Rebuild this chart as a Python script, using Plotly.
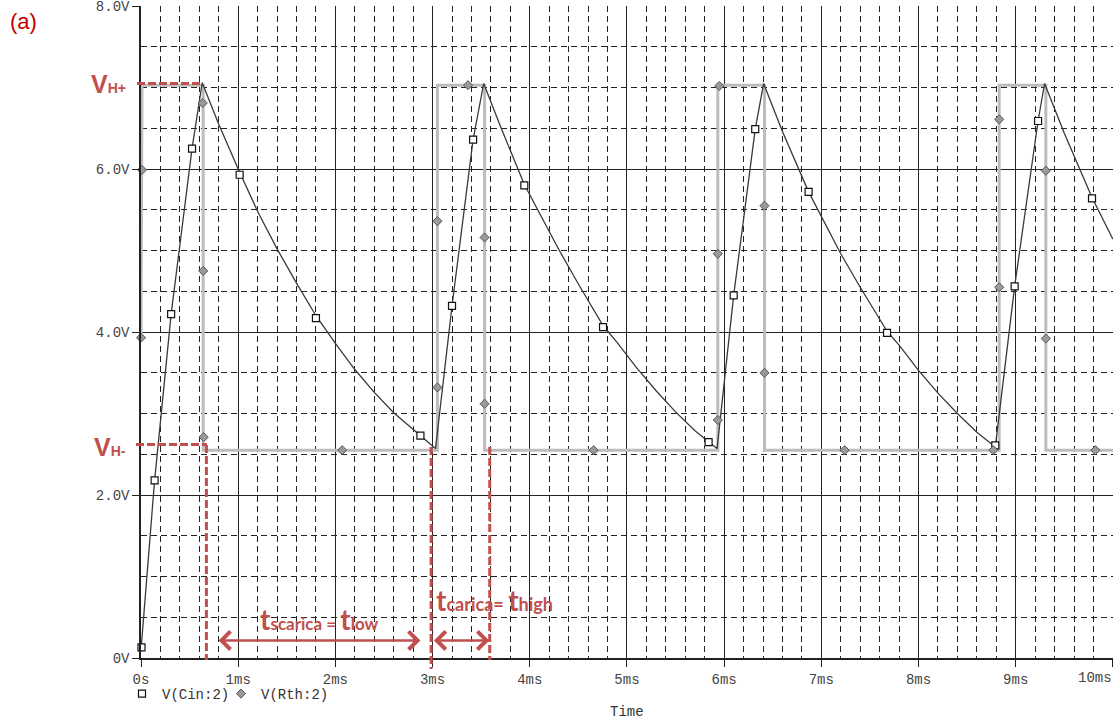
import plotly.graph_objects as go

# ---------------- data ----------------
# V(Cin:2) capacitor voltage, time in ms, volts
cin_t = [0.00, 0.14, 0.31, 0.525, 0.63,
         0.80, 1.00, 1.20, 1.40, 1.60, 1.80, 2.00, 2.20, 2.40, 2.60, 2.80, 2.875, 3.03,
         3.20, 3.417, 3.526,
         3.70, 3.944, 4.10, 4.30, 4.50, 4.754, 4.90, 5.10, 5.30, 5.50, 5.70, 5.84, 5.927,
         6.098, 6.32, 6.406,
         6.60, 6.869, 7.00, 7.20, 7.40, 7.676, 7.80, 8.00, 8.20, 8.40, 8.60, 8.79,
         8.989, 9.23, 9.297,
         9.50, 9.785, 10.0]
cin_v = [0.10, 2.18, 4.22, 6.25, 7.06,
         6.55, 6.00, 5.48, 5.02, 4.60, 4.20, 3.86, 3.54, 3.26, 3.01, 2.80, 2.73, 2.57,
         4.32, 6.36, 7.05,
         6.52, 5.81, 5.46, 5.01, 4.59, 4.08, 3.87, 3.56, 3.28, 3.02, 2.79, 2.65, 2.57,
         4.45, 6.49, 7.05,
         6.46, 5.72, 5.42, 4.96, 4.55, 4.01, 3.84, 3.53, 3.25, 3.00, 2.77, 2.59,
         4.56, 6.59, 7.05,
         6.44, 5.65, 5.14]

# V(Rth:2) comparator output (square wave)
rth_t = [0.00, 0.01, 0.64, 0.64, 3.05, 3.05, 3.535, 3.535, 5.935, 5.935,
         6.415, 6.415, 8.83, 8.83, 9.31, 9.31, 10.0]
rth_v = [3.93, 7.03, 7.03, 2.55, 2.55, 7.03, 7.03, 2.55, 2.55, 7.03,
         7.03, 2.55, 2.55, 7.03, 7.03, 2.55, 2.55]

# marker positions seen on the traces
cin_mark_t = [0.005, 0.14, 0.31, 0.525, 1.015, 1.80, 2.875, 3.20, 3.417, 3.944, 4.754,
              5.84, 6.098, 6.32, 6.869, 7.676, 8.79, 8.989, 9.23, 9.785]
cin_mark_v = [0.13, 2.18, 4.22, 6.25, 5.93, 4.17, 2.73, 4.32, 6.36, 5.80, 4.06,
              2.65, 4.45, 6.49, 5.72, 3.99, 2.61, 4.56, 6.59, 5.64]
rth_mark_t = [0.0, 0.01, 0.635, 0.64, 0.645, 2.07, 3.05, 3.05, 3.365, 3.535, 3.535,
              4.657, 5.935, 5.935, 5.95, 6.415, 6.415, 7.24, 8.77, 8.83, 8.83,
              9.31, 9.31, 9.82]
rth_mark_v = [3.93, 5.99, 6.81, 4.75, 2.71, 2.55, 3.32, 5.36, 7.03, 5.16, 3.12,
              2.55, 2.92, 4.96, 7.02, 5.55, 3.50, 2.55, 2.55, 4.55, 6.61,
              5.98, 3.92, 2.55]

x_ticks = [0, 1, 2, 3, 4, 5, 6, 7, 8, 9, 10]
x_labels = ['0s', '1ms', '2ms', '3ms', '4ms', '5ms', '6ms', '7ms', '8ms', '9ms', '10ms']
y_ticks = [0, 2, 4, 6, 8]
y_labels = ['0V', '2.0V', '4.0V', '6.0V', '8.0V']

# annotation levels / times
vh_plus = 7.05
vh_minus = 2.62
t_low_start = 0.673
t_low_edge = 2.985
t_high_edge = 3.588
arrow_v = 0.216

# ---------------- layout helpers ----------------
W, H = 1117, 724
ML, MR, MT, MB = 141, 4, 6, 66
PW, PH = W - ML - MR, H - MT - MB


def fx(px):
    return (px - ML) / PW


def fy(py):
    return (H - MB - py) / PH


RED = '#c0504d'
MONO = 'Liberation Mono'
GRID = '#222222'
TICKCOL = '#444444'

fig = go.Figure()
fig.add_trace(go.Scatter(x=rth_t, y=rth_v, mode='lines',
                         line=dict(color='#bcbcbc', width=3),
                         showlegend=False, hoverinfo='skip'))
fig.add_trace(go.Scatter(x=cin_t, y=cin_v, mode='lines',
                         line=dict(color='#3a3a3a', width=1.3),
                         showlegend=False, hoverinfo='skip'))
fig.add_trace(go.Scatter(x=cin_mark_t, y=cin_mark_v, mode='markers', name='V(Cin:2)',
                         cliponaxis=False, legend='legend',
                         marker=dict(symbol='square', size=7, color='white',
                                     line=dict(color='#111111', width=1.2))))
fig.add_trace(go.Scatter(x=rth_mark_t, y=rth_mark_v, mode='markers', name='V(Rth:2)',
                         cliponaxis=False, legend='legend2',
                         marker=dict(symbol='diamond', size=7, color='#9a9a9a',
                                     line=dict(color='#555555', width=1))))

shapes = []
dash_red = dict(color=RED, width=3, dash='8px,3px')
# VH+ and VH- horizontal guides
shapes.append(dict(type='line', xref='paper', yref='y', x0=fx(137), x1=fx(200),
                   y0=vh_plus, y1=vh_plus, line=dash_red, layer='above'))
shapes.append(dict(type='line', xref='paper', yref='y', x0=fx(136), x1=fx(207),
                   y0=vh_minus, y1=vh_minus, line=dash_red, layer='above'))
# vertical guides
shapes.append(dict(type='line', xref='x', yref='paper', x0=t_low_start, x1=t_low_start,
                   y0=fy(445), y1=fy(660), line=dash_red, layer='above'))
shapes.append(dict(type='line', xref='x', yref='paper', x0=t_low_edge, x1=t_low_edge,
                   y0=fy(447), y1=fy(669), line=dash_red, layer='above'))
shapes.append(dict(type='line', xref='x', yref='paper', x0=t_high_edge, x1=t_high_edge,
                   y0=fy(447), y1=fy(660), line=dash_red, layer='above'))

annotations = []
# double arrows
for a, b in [(0.783, 2.875), (2.998, 3.584)]:
    annotations.append(dict(x=b, y=arrow_v, ax=a, ay=arrow_v, xref='x', yref='y',
                            axref='x', ayref='y', text='', showarrow=True,
                            arrowhead=4, startarrowhead=4, arrowside='end+start',
                            arrowsize=1.4, startarrowsize=1.4, arrowwidth=2.5,
                            arrowcolor=RED, standoff=0, startstandoff=0))

annotations.append(dict(xref='paper', yref='paper', x=fx(8), y=fy(22), xanchor='left',
                        yanchor='middle', showarrow=False, text='(a)',
                        font=dict(family='Liberation Sans', size=22, color='#c00000')))
annotations.append(dict(xref='paper', yref='paper', x=fx(128), y=fy(84), xanchor='right',
                        yanchor='middle', showarrow=False,
                        text="<b>V<span style='font-size:14px'>H+</span></b>",
                        font=dict(family='Liberation Sans', size=25, color=RED)))
annotations.append(dict(xref='paper', yref='paper', x=fx(128), y=fy(447), xanchor='right',
                        yanchor='middle', showarrow=False,
                        text="<b>V<span style='font-size:14px'>H-</span></b>",
                        font=dict(family='Liberation Sans', size=25, color=RED)))
annotations.append(dict(xref='paper', yref='paper', x=fx(258), y=fy(619), xanchor='left',
                        yanchor='middle', showarrow=False,
                        text="<b>t<span style='font-size:17px'>scarica = </span>t"
                             "<span style='font-size:17px'>low</span></b>",
                        font=dict(family='Lato', size=28, color=RED)))
annotations.append(dict(xref='paper', yref='paper', x=fx(434), y=fy(600), xanchor='left',
                        yanchor='middle', showarrow=False,
                        text="<b>t<span style='font-size:18px'>carica= </span>t"
                             "<span style='font-size:18px'>high</span></b>",
                        font=dict(family='Lato', size=28, color=RED)))
annotations.append(dict(xref='paper', yref='paper', x=0.5, y=fy(712), xanchor='center',
                        yanchor='middle', showarrow=False, text='Time',
                        font=dict(family=MONO, size=14, color='#333333')))
# last x tick label, kept inside the page (right-aligned to the 10 ms tick)
annotations.append(dict(xref='x', yref='paper', x=x_ticks[-1], y=fy(678),
                        xanchor='right', yanchor='middle', showarrow=False,
                        text=x_labels[-1], xshift=1,
                        font=dict(family=MONO, size=14, color=TICKCOL)))

axis_common = dict(showline=True, linecolor=GRID, linewidth=1.5, mirror=False,
                   ticks='outside', ticklen=7, tickcolor=GRID, tickwidth=1.3,
                   showgrid=True, gridcolor=GRID, gridwidth=1.3, zeroline=False,
                   tickfont=dict(family=MONO, size=14, color=TICKCOL),
                   automargin=False, fixedrange=True)

legend_common = dict(orientation='h', y=fy(694), xanchor='left', yanchor='middle',
                     font=dict(family=MONO, size=14, color='#333333'),
                     bgcolor='rgba(0,0,0,0)', itemwidth=30)

fig.update_layout(
    width=W, height=H,
    margin=dict(l=ML, r=MR, t=MT, b=MB),
    paper_bgcolor='white', plot_bgcolor='white',
    xaxis=dict(range=[0, 10.001], tickmode='array', tickvals=x_ticks,
               ticktext=x_labels[:-1] + [''],
               minor=dict(dtick=0.2, tick0=0, showgrid=True, gridcolor=GRID,
                          gridwidth=1.3, griddash='6px,4px', ticks=''),
               **axis_common),
    yaxis=dict(range=[0, 8.001], tickmode='array', tickvals=y_ticks, ticktext=y_labels,
               ticklabeloverflow='allow',
               minor=dict(dtick=0.5, tick0=0, showgrid=True, gridcolor=GRID,
                          gridwidth=1.3, griddash='6px,4px', ticks=''),
               **axis_common),
    legend=dict(x=fx(122), **legend_common),
    legend2=dict(x=fx(221), **legend_common),
    shapes=shapes,
    annotations=annotations,
    showlegend=True,
)

fig.write_html('out.html')
